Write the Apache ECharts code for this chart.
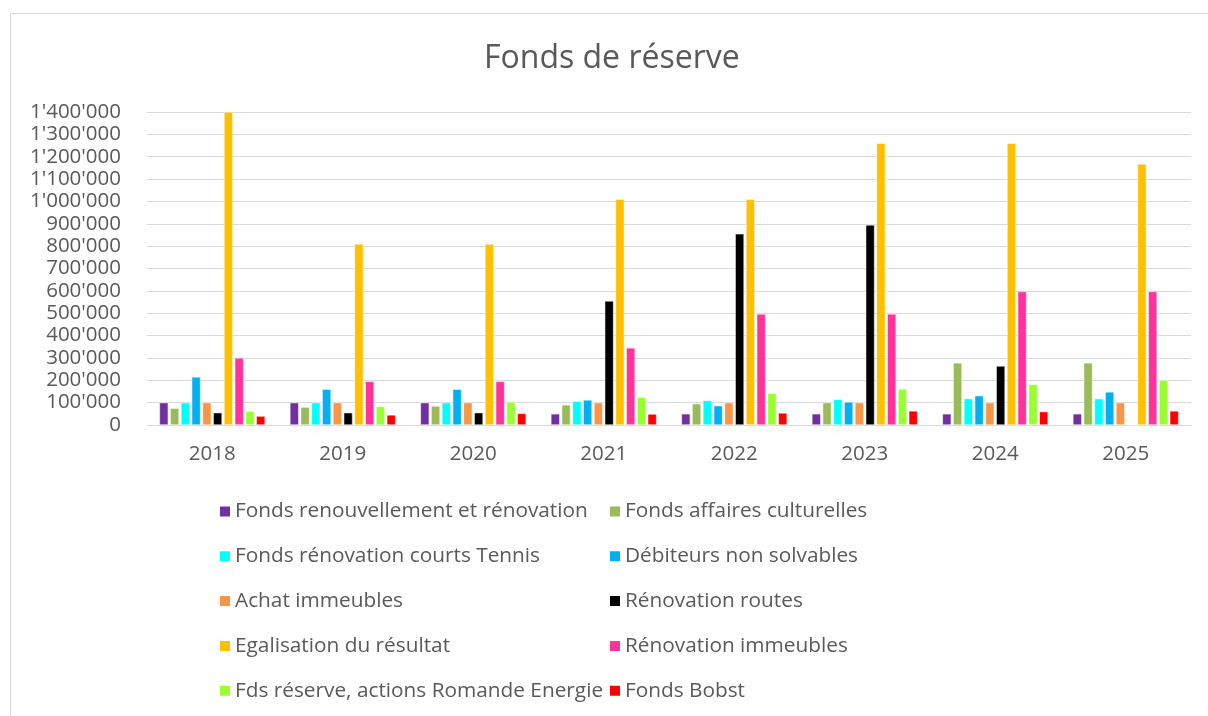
<!DOCTYPE html>
<html>
<head>
<meta charset="utf-8">
<script src="https://cdn.jsdelivr.net/npm/echarts@6/dist/echarts.min.js"></script>
<style>
    html, body { margin: 0; padding: 0; background: #fff; }
    #frame { position: absolute; left: 10px; top: 13px; width: 1210px; height: 720px; border: 1px solid #d9d9d9; box-sizing: border-box; }
    #chart { position: absolute; left: 0; top: 0; width: 1208px; height: 716px; }
</style>
</head>
<body>
<div id="frame"></div>
<div id="chart"></div>
<script>
const years = ['2018', '2019', '2020', '2021', '2022', '2023', '2024', '2025'];

const seriesNames = [
    'Fonds renouvellement et rénovation',
    'Fonds affaires culturelles',
    'Fonds rénovation courts Tennis',
    'Débiteurs non solvables',
    'Achat immeubles',
    'Rénovation routes',
    'Egalisation du résultat',
    'Rénovation immeubles',
    'Fds réserve, actions Romande Energie',
    'Fonds Bobst'
];

const renouvellement = [100000, 100000, 100000, 50000, 50000, 50000, 50000, 50000];
const culturelles = [75000, 80000, 85000, 90000, 95000, 100000, 278000, 278000];
const tennis = [100000, 100000, 100000, 106000, 110000, 115000, 118000, 118000];
const debiteurs = [215000, 160000, 160000, 112000, 86000, 103000, 131000, 148000];
const achat = [100000, 100000, 100000, 100000, 100000, 100000, 100000, 100000];
const routes = [55000, 55000, 55000, 555000, 855000, 895000, 264000, 0];
const egalisation = [1400000, 810000, 810000, 1010000, 1010000, 1260000, 1260000, 1167000];
const immeubles = [300000, 195000, 195000, 345000, 497000, 497000, 597000, 597000];
const romande = [62000, 83000, 103000, 124000, 142000, 161000, 182000, 201000];
const bobst = [40000, 45000, 52000, 49000, 54000, 63000, 60000, 63000];

const seriesData = [renouvellement, culturelles, tennis, debiteurs, achat, routes, egalisation, immeubles, romande, bobst];
const colors = ['#7030A0', '#9BBB59', '#00FFFF', '#00B0F0', '#F79646', '#000000', '#FFC000', '#FF3399', '#99FF33', '#FF0000'];

const chart = echarts.init(document.getElementById('chart'));

function fmt(v) {
    return String(v).replace(/\B(?=(\d{3})+(?!\d))/g, "'");
}

const legendBase = {
    orient: 'vertical',
    top: 496,
    itemWidth: 12,
    itemHeight: 12,
    itemGap: 23.8,
    icon: 'rect',
    textStyle: { color: '#595959', fontSize: 20.8, fontFamily: 'Open Sans', padding: [0, 0, 0, -1] },
    selectedMode: false
};

const option = {
    color: colors,
    animation: false,
    textStyle: { fontFamily: 'Open Sans' },
    title: {
        text: 'Fonds de réserve',
        left: 479,
        top: 38,
        textStyle: { color: '#595959', fontSize: 32, fontWeight: 'normal', fontFamily: 'Open Sans' }
    },
    legend: [
        Object.assign({}, legendBase, { left: 213, data: seriesNames.filter((n, i) => i % 2 === 0) }),
        Object.assign({}, legendBase, { left: 603, data: seriesNames.filter((n, i) => i % 2 === 1) })
    ],
    grid: {
        left: 147,
        right: 17,
        top: 112,
        height: 313,
        containLabel: false
    },
    xAxis: {
        type: 'category',
        data: years,
        axisLine: { lineStyle: { color: '#d9d9d9', width: 1 } },
        axisTick: { show: false },
        axisLabel: { color: '#595959', fontSize: 20.5, margin: 19 }
    },
    yAxis: {
        type: 'value',
        min: 0,
        max: 1400000,
        interval: 100000,
        axisLine: { show: false },
        axisTick: { show: false },
        splitLine: { lineStyle: { color: '#d9d9d9', width: 1 } },
        axisLabel: { color: '#595959', fontSize: 20.5, margin: 26, formatter: fmt }
    },
    series: seriesNames.map((name, i) => ({
        name: name,
        type: 'bar',
        data: seriesData[i],
        barGap: '22%',
        barCategoryGap: '19%',
        itemStyle: { borderColor: '#ffffff', borderWidth: 0.5 }
    }))
};

chart.setOption(option);

window.addEventListener('resize', function () {
    chart.resize();
});
</script>
</body>
</html>
